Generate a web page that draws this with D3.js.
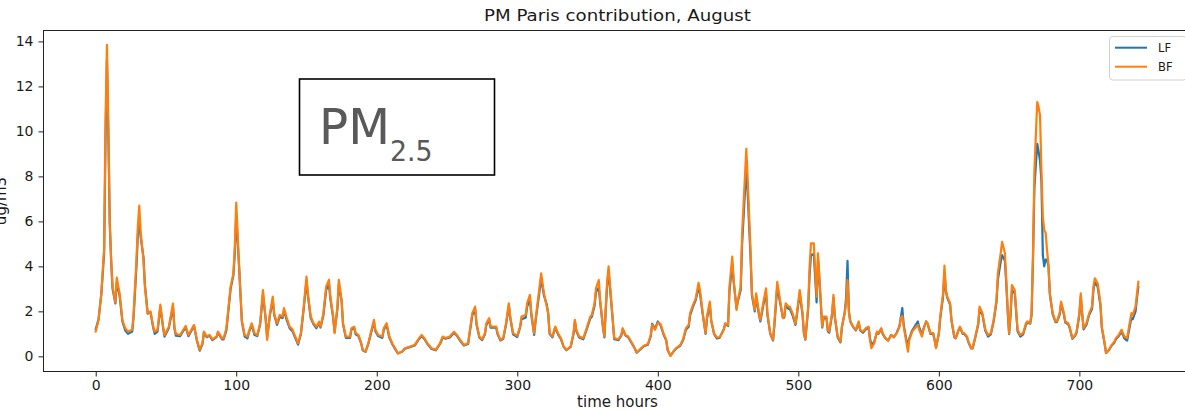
<!DOCTYPE html>
<html>
<head>
<meta charset="utf-8">
<script src="https://cdn.jsdelivr.net/npm/d3@7"></script>
<style>
  html, body { margin: 0; padding: 0; background: #fff; }
  svg { display: block; }
  text { font-family: "DejaVu Sans", sans-serif; fill: #1a1a1a; }
</style>
</head>
<body>
<svg id="chart" width="1185" height="410"></svg>
<script>
// Hourly PM2.5 contribution of Paris during August (ug/m3), two model runs.
const hours = [0,2,4,6,7,8,9,10,11,12,14,15,17,19,21,23,26,27,29,30,31,32,34,35,37,39,41,42,44,46,48,49,52,55,56,57,60,64,66,70,72,74,76,77,79,81,83,86,87,90,91,93,96,98,99,100,
102,104,106,108,109,111,113,115,117,119,121,122,124,126,127,129,131,133,134,136,138,140,142,144,146,148,150,151,153,155,157,159,160,162,164,166,167,169,170,172,173,175,176,178,181,182,184,185,187,189,190,192,194,196,198,199,
201,204,205,207,209,211,213,215,218,220,224,227,230,232,234,236,239,242,245,247,249,252,255,257,259,262,265,266,268,270,271,273,275,277,278,280,281,283,285,286,288,290,292,294,295,297,300,
302,303,306,307,309,310,312,313,315,317,319,321,322,323,325,327,329,331,333,335,338,340,341,342,344,347,349,352,353,355,356,358,359,361,362,363,364,365,367,369,372,374,375,377,379,381,383,385,387,390,393,395,396,398,400,
402,404,406,407,409,411,413,416,418,420,422,423,425,427,429,430,432,434,435,437,438,440,442,444,447,448,450,451,453,454,456,457,459,460,462,463,464,466,467,469,470,472,473,475,477,478,480,482,483,485,487,489,490,491,493,494,496,498,499,
501,503,504,505,507,508,509,511,512,513,514,515,517,518,520,521,522,524,525,526,528,530,531,533,534,535,536,537,539,541,543,544,546,548,550,551,552,554,556,557,559,560,562,564,566,568,570,572,573,574,575,577,578,579,581,583,585,586,588,589,591,592,594,596,597,598,600,
601,603,604,605,606,608,609,611,612,614,615,617,618,620,621,623,624,626,628,629,631,633,635,637,639,641,642,644,645,647,648,649,650,651,652,654,655,656,658,660,662,663,665,666,667,668,670,671,672,673,674,675,676,677,678,679,681,683,684,686,687,689,690,692,693,695,697,698,700,
701,702,703,705,707,709,710,711,713,715,716,718,719,721,723,725,726,728,730,732,734,735,737,738,740,741,742];

const valuesLF = [1.20,1.65,2.75,4.60,9.80,13.20,9.90,5.90,4.20,3.00,2.35,3.30,2.70,1.55,1.15,1.00,1.10,1.80,4.00,5.40,6.00,5.30,4.40,3.20,1.90,1.95,1.25,1.00,1.10,2.20,1.25,0.88,1.25,2.20,1.25,0.92,0.90,1.30,0.90,1.35,0.70,0.25,0.55,1.05,0.85,0.92,0.72,0.85,1.05,0.75,0.75,1.15,3.00,3.60,4.60,6.30,
4.00,1.55,0.88,0.80,1.05,1.40,0.95,0.90,1.40,2.75,1.65,0.85,1.85,2.50,1.85,1.40,1.75,1.70,2.05,1.60,1.25,1.12,0.82,0.52,0.98,2.10,3.35,2.70,1.70,1.42,1.25,1.48,1.28,1.80,2.95,3.20,2.55,1.70,1.10,2.10,3.20,2.45,1.42,0.82,0.82,1.20,1.25,0.98,0.90,0.55,0.27,0.20,0.55,1.05,1.52,1.12,
0.90,0.82,1.18,1.40,0.82,0.55,0.33,0.13,0.20,0.34,0.42,0.48,0.76,0.90,0.76,0.55,0.33,0.27,0.55,0.84,0.78,0.84,1.05,0.92,0.72,0.48,0.55,0.98,1.82,2.10,1.42,0.84,0.72,0.98,1.40,1.62,1.28,1.28,1.28,0.98,0.70,0.78,1.40,2.25,1.70,0.98,0.86,
1.28,1.65,1.72,2.20,2.55,1.85,0.95,1.55,2.50,3.45,2.70,2.30,1.90,1.00,0.84,1.28,0.98,0.78,0.42,0.27,0.42,0.98,1.55,1.12,0.84,0.76,1.12,1.70,1.75,2.25,2.85,3.05,2.40,1.28,0.84,2.10,3.20,3.75,2.30,0.76,0.72,0.92,1.20,0.92,0.84,0.63,0.42,0.16,0.27,0.45,0.52,0.90,1.45,1.22,1.55,
1.38,0.98,0.70,0.28,0.02,0.20,0.34,0.48,0.72,1.18,1.32,1.82,2.20,2.50,3.05,2.80,1.85,1.00,1.68,2.30,1.58,1.00,0.80,0.82,1.22,1.45,1.35,2.90,4.10,3.30,2.15,2.45,2.95,5.00,7.30,8.40,7.20,4.40,2.70,2.00,2.65,1.85,1.55,2.25,2.85,1.85,1.00,0.70,1.40,3.10,2.40,1.72,1.72,2.25,2.12,2.10,1.80,1.40,1.85,
2.80,1.85,1.00,0.74,2.10,3.60,4.50,4.55,3.50,2.40,4.30,3.40,1.28,1.70,1.70,1.12,1.05,1.85,2.60,1.72,0.84,0.62,1.28,1.95,2.60,4.25,2.00,1.55,1.30,1.15,1.50,1.15,1.05,1.20,1.28,0.80,0.50,0.65,1.08,1.00,1.22,1.00,0.80,0.70,0.95,0.85,1.05,1.35,1.75,2.15,1.40,0.70,0.55,0.80,1.15,1.35,1.55,1.30,0.95,1.22,1.55,1.45,1.00,1.00,0.72,0.40,1.00,
1.70,2.65,3.75,2.90,2.60,2.30,1.58,0.85,0.80,1.15,1.28,1.00,1.00,0.85,0.63,0.35,0.35,0.85,1.40,2.10,1.85,1.15,0.88,0.98,1.55,2.40,3.40,4.20,4.50,4.25,3.20,2.00,1.00,1.80,2.95,2.80,2.00,1.12,0.88,0.98,1.40,1.50,1.45,1.85,4.30,7.50,9.45,9.10,8.70,7.80,4.50,4.00,4.30,4.30,4.00,2.75,1.88,1.52,1.52,1.85,2.35,1.85,1.50,1.42,1.28,0.78,0.92,1.05,1.85,
2.65,1.88,1.20,1.40,1.85,2.10,2.95,3.30,3.10,2.25,1.25,0.55,0.15,0.27,0.48,0.62,0.76,0.90,1.10,0.80,0.70,1.05,1.70,1.65,2.00,2.60,3.10];

const valuesBF = [1.10,1.60,2.80,4.80,10.50,13.85,10.20,6.00,4.30,3.10,2.40,3.50,2.80,1.60,1.25,1.10,1.18,1.90,4.30,5.80,6.70,5.50,4.30,3.10,1.90,2.00,1.30,1.10,1.18,2.30,1.30,0.95,1.30,2.35,1.30,1.00,0.95,1.35,0.95,1.40,0.73,0.29,0.58,1.10,0.88,0.95,0.76,0.88,1.10,0.80,0.80,1.25,3.10,3.70,4.90,6.83,
4.10,1.60,0.95,0.88,1.10,1.47,1.03,0.95,1.47,2.95,1.60,0.73,1.90,2.65,1.90,1.47,1.84,1.77,2.14,1.70,1.32,1.20,0.88,0.58,1.03,2.20,3.54,2.80,1.77,1.47,1.32,1.54,1.32,1.90,3.10,3.40,2.65,1.77,1.03,2.20,3.40,2.50,1.47,0.88,0.88,1.25,1.32,1.03,0.95,0.58,0.29,0.21,0.58,1.10,1.62,1.18,
0.95,0.88,1.25,1.47,0.88,0.58,0.36,0.14,0.21,0.36,0.44,0.51,0.80,0.95,0.80,0.58,0.36,0.29,0.58,0.88,0.81,0.88,1.10,0.95,0.76,0.51,0.58,1.03,1.92,2.21,1.47,0.88,0.76,1.03,1.47,1.70,1.32,1.32,1.32,1.03,0.73,0.81,1.47,2.36,1.77,1.03,0.91,
1.32,1.77,1.84,2.36,2.73,1.92,1.03,1.62,2.65,3.69,2.80,2.21,1.92,1.03,0.88,1.32,1.03,0.81,0.44,0.29,0.44,1.03,1.62,1.18,0.88,0.81,1.18,1.77,1.84,2.36,3.02,3.39,2.50,1.32,0.88,2.21,3.39,4.00,2.40,0.81,0.76,0.95,1.25,0.95,0.88,0.66,0.44,0.17,0.29,0.47,0.55,0.95,1.40,1.18,1.50,
1.44,1.03,0.73,0.29,0.02,0.21,0.36,0.51,0.76,1.25,1.40,1.92,2.28,2.58,3.27,2.95,1.92,1.03,1.77,2.43,1.62,1.03,0.84,0.85,1.18,1.47,1.40,3.10,4.43,3.39,2.06,2.50,3.10,5.46,7.98,9.23,7.83,4.72,2.80,2.06,2.80,1.92,1.62,2.36,3.02,1.92,1.03,0.73,1.47,3.31,2.50,1.70,1.77,2.36,2.21,2.21,1.90,1.45,1.92,
2.95,1.92,1.03,0.76,2.21,3.98,5.02,5.02,3.84,2.65,4.58,3.54,1.32,1.77,1.77,1.18,1.10,1.92,2.73,1.77,0.88,0.66,1.32,1.92,2.36,3.39,1.92,1.55,1.32,1.18,1.55,1.18,1.10,1.25,1.32,0.73,0.36,0.58,1.10,1.03,1.25,1.03,0.81,0.70,0.95,0.85,1.03,1.32,1.70,1.80,1.32,0.58,0.21,0.73,1.10,1.25,1.40,1.18,0.88,1.18,1.55,1.47,1.03,1.03,0.73,0.36,1.03,
1.77,2.80,4.03,2.95,2.65,2.36,1.62,0.88,0.81,1.18,1.32,1.03,1.03,0.88,0.66,0.36,0.36,0.88,1.47,2.21,1.92,1.20,0.95,1.03,1.62,2.50,3.69,4.58,5.09,4.58,3.39,2.06,1.03,1.92,3.17,2.95,2.06,1.18,0.95,1.03,1.47,1.55,1.47,1.92,4.58,8.27,11.30,11.08,10.70,8.27,6.20,5.60,5.50,4.70,4.10,2.80,1.92,1.55,1.55,1.92,2.43,1.92,1.55,1.47,1.32,0.81,0.95,1.10,1.92,
2.80,1.92,1.25,1.47,1.92,2.21,3.10,3.47,3.25,2.36,1.32,0.58,0.14,0.29,0.51,0.66,0.81,0.95,1.18,0.88,0.81,1.18,1.92,1.84,2.21,2.80,3.32];

const seriesNames = ["LF", "BF"];
const seriesColors = ["#1f77b4", "#ff7f0e"];
const xTicks = [0, 100, 200, 300, 400, 500, 600, 700];
const yTicks = [0, 2, 4, 6, 8, 10, 12, 14];

const svg = d3.select("#chart");
const W = 1185, H = 410;
svg.append("rect").attr("width", W).attr("height", H).attr("fill", "#fff");

// Axes box (the right edge extends past the visible area)
const box = { left: 43.5, top: 30.5, right: 1192, bottom: 371.5 };

const x = d3.scaleLinear().domain([-37.15, 780.15]).range([box.left, box.right]);
const y = d3.scaleLinear().domain([-0.674, 14.486]).range([box.bottom, box.top]);

const series = [valuesLF, valuesBF].map((vals, i) => ({
  name: seriesNames[i],
  color: seriesColors[i],
  points: hours.map((h, j) => ({ h, v: vals[j] }))
}));

const line = d3.line().x(d => x(d.h)).y(d => y(d.v));

const plot = svg.append("g");
series.forEach(s => {
  plot.append("path")
    .datum(s.points)
    .attr("fill", "none")
    .attr("stroke", s.color)
    .attr("stroke-width", 2.2)
    .attr("stroke-linejoin", "round")
    .attr("stroke-linecap", "round")
    .attr("d", line);
});

// Frame
svg.append("rect")
  .attr("x", box.left).attr("y", box.top)
  .attr("width", box.right - box.left).attr("height", box.bottom - box.top)
  .attr("fill", "none").attr("stroke", "#222").attr("stroke-width", 1);

// X axis
const xAxis = d3.axisBottom(x).tickValues(xTicks).tickSize(5).tickPadding(4).tickFormat(d3.format("d"));
const gx = svg.append("g").attr("transform", `translate(0,${box.bottom})`).call(xAxis);
gx.select(".domain").remove();
gx.selectAll(".tick line").attr("stroke", "#222");
gx.selectAll(".tick text").attr("font-size", 14).attr("font-family", "DejaVu Sans").attr("fill", "#1a1a1a");

// Y axis
const yAxis = d3.axisLeft(y).tickValues(yTicks).tickSize(5).tickPadding(5).tickFormat(d3.format("d"));
const gy = svg.append("g").attr("transform", `translate(${box.left},0)`).call(yAxis);
gy.select(".domain").remove();
gy.selectAll(".tick line").attr("stroke", "#222");
gy.selectAll(".tick text").attr("font-size", 14).attr("font-family", "DejaVu Sans").attr("fill", "#1a1a1a");

// Title and axis labels
svg.append("text")
  .attr("x", 617.5).attr("y", 21)
  .attr("text-anchor", "middle")
  .attr("font-size", 15)
  .attr("textLength", 267).attr("lengthAdjust", "spacingAndGlyphs")
  .text("PM Paris contribution, August");

svg.append("text")
  .attr("x", 617.5).attr("y", 407)
  .attr("text-anchor", "middle")
  .attr("font-size", 15)
  .text("time hours");

svg.append("text")
  .attr("transform", "translate(6,201) rotate(-90)")
  .attr("text-anchor", "middle")
  .attr("font-size", 15)
  .text("ug/m3");

// PM2.5 annotation box
svg.append("rect")
  .attr("x", 299.5).attr("y", 79).attr("width", 195).attr("height", 96)
  .attr("fill", "#fff").attr("stroke", "#000").attr("stroke-width", 1.6);
svg.append("text")
  .attr("x", 319).attr("y", 144)
  .attr("font-family", "Liberation Sans, Arial, sans-serif")
  .attr("font-size", 50)
  .attr("textLength", 71).attr("lengthAdjust", "spacingAndGlyphs")
  .style("fill", "#595959")
  .text("PM");
svg.append("text")
  .attr("x", 390).attr("y", 160.5)
  .attr("font-family", "Liberation Sans, Arial, sans-serif")
  .attr("font-size", 29)
  .attr("textLength", 42.5).attr("lengthAdjust", "spacingAndGlyphs")
  .style("fill", "#595959")
  .text("2.5");

// Legend
const lg = svg.append("g");
lg.append("rect")
  .attr("x", 1109.5).attr("y", 36.5).attr("width", 77).attr("height", 43.5)
  .attr("rx", 3).attr("fill", "#fff").attr("fill-opacity", 0.8)
  .attr("stroke", "#d0d0d0").attr("stroke-width", 1);
series.forEach((s, i) => {
  const yy = 47.7 + i * 19;
  lg.append("line")
    .attr("x1", 1115).attr("x2", 1147).attr("y1", yy).attr("y2", yy)
    .attr("stroke", s.color).attr("stroke-width", 2);
  lg.append("text")
    .attr("x", 1158).attr("y", yy + 4)
    .attr("font-size", 11.5)
    .text(s.name);
});
</script>
</body>
</html>
